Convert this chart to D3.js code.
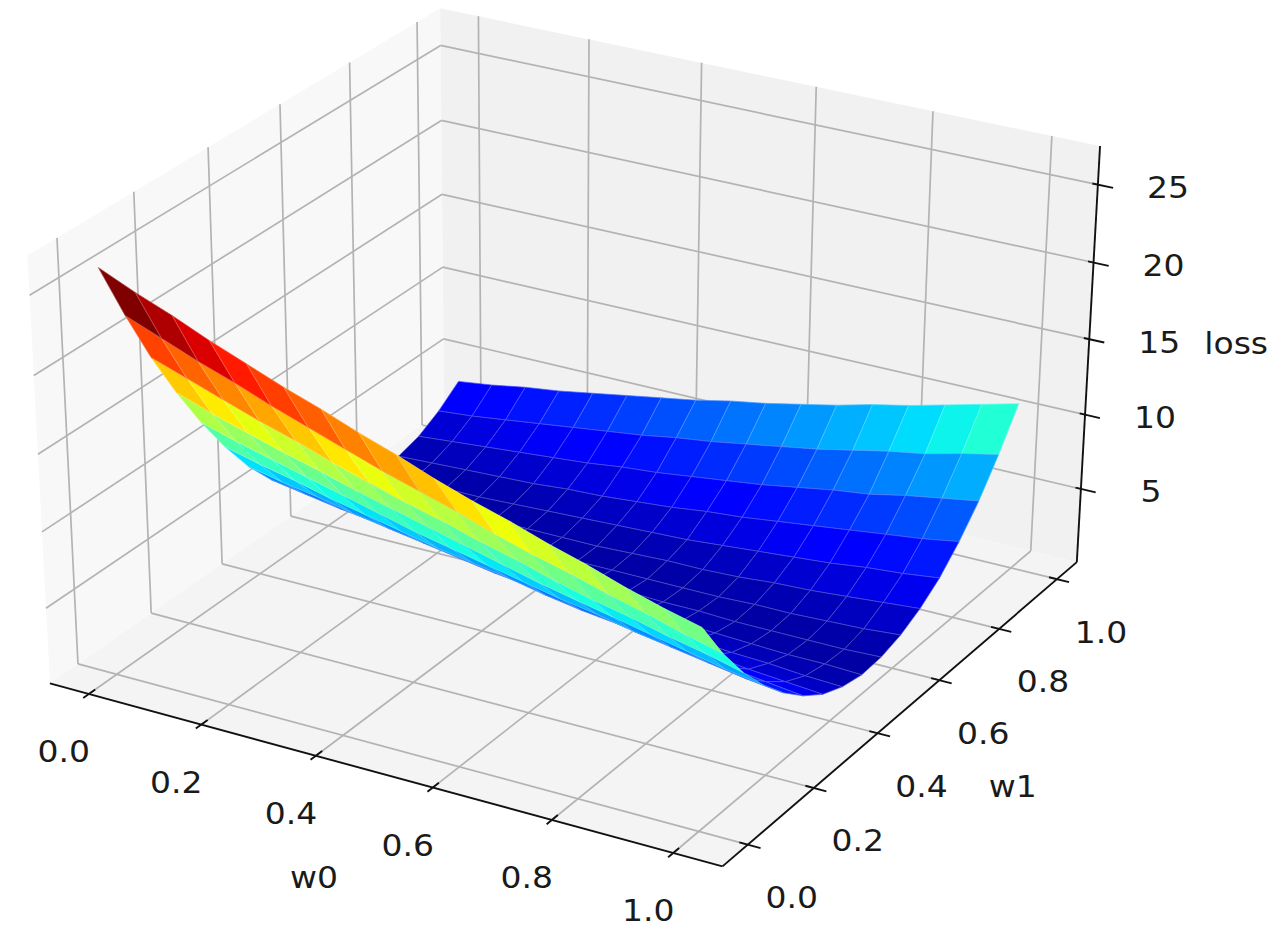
<!DOCTYPE html>
<html>
<head>
<meta charset="utf-8">
<script src="https://cdn.jsdelivr.net/npm/d3@7"></script>
<style>
  body { margin: 0; background: #fff; }
</style>
</head>
<body>
<div id="chart-container"></div>
<script>
// Grid of the loss surface
const w0Values = [0, 0.0625, 0.125, 0.1875, 0.25, 0.3125, 0.375, 0.4375, 0.5, 0.5625, 0.625, 0.6875, 0.75, 0.8125, 0.875, 0.9375, 1];
const w1Values = [0, 0.0625, 0.125, 0.1875, 0.25, 0.3125, 0.375, 0.4375, 0.5, 0.5625, 0.625, 0.6875, 0.75, 0.8125, 0.875, 0.9375, 1];

// lossGrid[j][i] -> loss at w1Values[j], w0Values[i]
const lossGrid = [
  [26.2, 25.2, 24.3, 23.3, 22.4, 21.5, 20.7, 19.8, 19.0, 18.1, 17.3, 16.6, 15.8, 15.1, 14.3, 13.6, 13.0],
  [22.3, 21.4, 20.5, 19.7, 18.8, 18.0, 17.2, 16.4, 15.7, 15.0, 14.2, 13.5, 12.9, 12.2, 11.6, 10.9, 10.3],
  [18.7, 17.9, 17.1, 16.3, 15.6, 14.8, 14.1, 13.4, 12.8, 12.1, 11.5, 10.8, 10.2, 9.7, 9.1, 8.6, 8.0],
  [15.5, 14.7, 14.0, 13.3, 12.7, 12.0, 11.4, 10.8, 10.2, 9.6, 9.0, 8.5, 8.0, 7.5, 7.0, 6.5, 6.1],
  [12.6, 11.9, 11.3, 10.7, 10.1, 9.5, 8.9, 8.4, 7.9, 7.4, 6.9, 6.5, 6.0, 5.6, 5.2, 4.8, 4.5],
  [10.0, 9.4, 8.9, 8.3, 7.8, 7.3, 6.8, 6.4, 6.0, 5.5, 5.1, 4.8, 4.4, 4.1, 3.8, 3.5, 3.2],
  [7.7, 7.2, 6.8, 6.3, 5.9, 5.5, 5.1, 4.7, 4.4, 4.0, 3.7, 3.4, 3.1, 2.9, 2.6, 2.4, 2.2],
  [5.8, 5.4, 5.0, 4.7, 4.3, 4.0, 3.7, 3.4, 3.1, 2.8, 2.6, 2.4, 2.2, 2.0, 1.9, 1.7, 1.6],
  [4.3, 3.9, 3.6, 3.3, 3.1, 2.8, 2.6, 2.4, 2.2, 2.0, 1.8, 1.7, 1.6, 1.5, 1.4, 1.4, 1.3],
  [3.0, 2.8, 2.5, 2.3, 2.1, 2.0, 1.8, 1.7, 1.6, 1.5, 1.4, 1.4, 1.3, 1.3, 1.3, 1.3, 1.4],
  [2.1, 1.9, 1.8, 1.7, 1.6, 1.5, 1.4, 1.3, 1.3, 1.3, 1.3, 1.3, 1.4, 1.4, 1.5, 1.6, 1.8],
  [1.5, 1.5, 1.4, 1.3, 1.3, 1.3, 1.3, 1.3, 1.4, 1.5, 1.5, 1.6, 1.8, 1.9, 2.1, 2.3, 2.5],
  [1.3, 1.3, 1.3, 1.3, 1.4, 1.5, 1.6, 1.7, 1.8, 1.9, 2.1, 2.3, 2.5, 2.7, 3.0, 3.2, 3.5],
  [1.4, 1.5, 1.6, 1.7, 1.8, 2.0, 2.1, 2.3, 2.5, 2.8, 3.0, 3.3, 3.6, 3.9, 4.2, 4.5, 4.9],
  [1.8, 2.0, 2.2, 2.4, 2.6, 2.8, 3.1, 3.3, 3.6, 3.9, 4.2, 4.6, 5.0, 5.3, 5.8, 6.2, 6.6],
  [2.6, 2.8, 3.1, 3.4, 3.7, 4.0, 4.3, 4.7, 5.0, 5.4, 5.8, 6.2, 6.7, 7.2, 7.6, 8.2, 8.7],
  [3.7, 4.0, 4.4, 4.7, 5.1, 5.5, 5.9, 6.3, 6.8, 7.2, 7.7, 8.2, 8.8, 9.3, 9.9, 10.5, 11.1]
];

// Ticks
const w0Ticks = [0, 0.2, 0.4, 0.6, 0.8, 1.0];
const w1Ticks = [0, 0.2, 0.4, 0.6, 0.8, 1.0];
const lossTicks = [5, 10, 15, 20, 25];

// Limits of the drawn box
const w0Box = [-0.07, 1.08];
const w1Box = [-0.075, 1.07];
const lossBox = [0, 27.45];

// Where some box corners / ticks sit on the page, used to fit the camera
const anchors = [
  [[-0.07, -0.075, 0], [50, 683]],
  [[1.08, -0.075, 0], [722, 866]],
  [[1.08, 1.07, 0], [1077, 563]],
  [[-0.07, 1.07, 0], [444, 411]],
  [[-0.07, -0.075, 27.45], [28, 255]],
  [[-0.07, 1.07, 27.45], [440, 8]],
  [[1.08, 1.07, 27.45], [1098, 143]],
  [[0, -0.075, 0], [90, 697]],
  [[1, -0.075, 0], [673, 853]],
  [[1.08, 0, 0], [748, 845]],
  [[1.08, 1, 0], [1058, 580]],
  [[1.08, 1.07, 5], [1080, 487]],
  [[1.08, 1.07, 25], [1097, 185]],
  [[0, 1.07, 27.45], [480, 17]],
  [[1, 1.07, 27.45], [1055, 139]],
  [[-0.07, 0, 27.45], [56, 238]],
  [[-0.07, 1, 27.45], [416, 22]],
  [[-0.07, 0, 0], [78, 663]],
  [[-0.07, 0.6, 0], [290, 513]]
];

const width = 1280;
const height = 948;

// Normalise data into the unit box
const nx = d3.scaleLinear().domain(w0Box).range([0, 1]);
const ny = d3.scaleLinear().domain(w1Box).range([0, 1]);
const nz = d3.scaleLinear().domain(lossBox).range([0, 1]);
const norm = (p) => [nx(p[0]), ny(p[1]), nz(p[2])];

// Least squares fit of a 3x4 projective camera (last entry fixed to 1)
function fitCamera(pts) {
  const n = 11;
  const M = Array.from({ length: n }, () => new Array(n + 1).fill(0));
  const addRow = (row, rhs) => {
    for (let i = 0; i < n; i++) {
      for (let j = 0; j < n; j++) M[i][j] += row[i] * row[j];
      M[i][n] += row[i] * rhs;
    }
  };
  pts.forEach(({ p, s }) => {
    const [x, y, z] = p;
    const [u, v] = s;
    addRow([x, y, z, 1, 0, 0, 0, 0, -u * x, -u * y, -u * z], u);
    addRow([0, 0, 0, 0, x, y, z, 1, -v * x, -v * y, -v * z], v);
  });
  for (let c = 0; c < n; c++) {
    let piv = c;
    for (let r = c + 1; r < n; r++) if (Math.abs(M[r][c]) > Math.abs(M[piv][c])) piv = r;
    [M[c], M[piv]] = [M[piv], M[c]];
    for (let r = 0; r < n; r++) {
      if (r === c) continue;
      const f = M[r][c] / M[c][c];
      for (let k = c; k <= n; k++) M[r][k] -= f * M[c][k];
    }
  }
  return M.map((row, i) => row[n] / row[i]);
}

const cam = fitCamera(anchors.map(([p, s]) => ({ p: norm(p), s: [s[0] / 1000, s[1] / 1000] })));

function project(w0, w1, z) {
  const [x, y, t] = norm([w0, w1, z]);
  const d = cam[8] * x + cam[9] * y + cam[10] * t + 1;
  return [
    1000 * (cam[0] * x + cam[1] * y + cam[2] * t + cam[3]) / d,
    1000 * (cam[4] * x + cam[5] * y + cam[6] * t + cam[7]) / d
  ];
}

// distance along the viewing direction (elev 30, azim -60), bigger = further away
function depth(w0, w1, z) {
  const [x, y, t] = norm([w0, w1, z]);
  return -(0.433 * x - 0.75 * y + 0.375 * t);
}

// jet colormap
const jetR = d3.scaleLinear().domain([0, 0.35, 0.66, 0.89, 1]).range([0, 0, 1, 1, 0.5]).clamp(true);
const jetG = d3.scaleLinear().domain([0, 0.125, 0.375, 0.64, 0.91, 1]).range([0, 0, 1, 1, 0, 0]).clamp(true);
const jetB = d3.scaleLinear().domain([0, 0.11, 0.34, 0.65, 1]).range([0.5, 1, 1, 0, 0]).clamp(true);
const jet = (v) => d3.rgb(255 * jetR(v), 255 * jetG(v), 255 * jetB(v));

const svg = d3.select("#chart-container")
  .append("svg")
  .attr("width", width)
  .attr("height", height)
  .style("background", "#fff");

const line = d3.line();
const path3d = (pts) => line(pts.map(p => project(...p)));

// Panes
const [a0, a1] = w0Box, [b0, b1] = w1Box, [c0, c1] = lossBox;
const panes = [
  { pts: [[a0, b0, c0], [a0, b1, c0], [a0, b1, c1], [a0, b0, c1]], fill: "#f8f8f8" }, // left (w0 min)
  { pts: [[a0, b1, c0], [a1, b1, c0], [a1, b1, c1], [a0, b1, c1]], fill: "#f1f1f1" }, // back (w1 max)
  { pts: [[a0, b0, c0], [a1, b0, c0], [a1, b1, c0], [a0, b1, c0]], fill: "#f4f4f4" }  // floor
];
svg.append("g")
  .selectAll("path")
  .data(panes)
  .join("path")
  .attr("d", d => path3d(d.pts) + "Z")
  .attr("fill", d => d.fill)
  .attr("stroke", "none");

// Gridlines
const gridSegs = [];
w0Ticks.forEach(t => {
  gridSegs.push([[t, b0, c0], [t, b1, c0]]);
  gridSegs.push([[t, b1, c0], [t, b1, c1]]);
});
w1Ticks.forEach(t => {
  gridSegs.push([[a0, t, c0], [a1, t, c0]]);
  gridSegs.push([[a0, t, c0], [a0, t, c1]]);
});
lossTicks.forEach(t => {
  gridSegs.push([[a0, b0, t], [a0, b1, t]]);
  gridSegs.push([[a0, b1, t], [a1, b1, t]]);
});
svg.append("g")
  .selectAll("path")
  .data(gridSegs)
  .join("path")
  .attr("d", d => path3d(d))
  .attr("fill", "none")
  .attr("stroke", "#b3b3b3")
  .attr("stroke-width", 1.7);

// Axis lines and ticks
const axisSegs = [
  [[a0, b0, c0], [a1, b0, c0]],
  [[a1, b0, c0], [a1, b1, c0]],
  [[a1, b1, c0], [a1, b1, c1]]
];
const spanW0 = a1 - a0, spanW1 = b1 - b0;
w0Ticks.forEach(t => axisSegs.push([[t, b0 + 0.015 * spanW1, c0], [t, b0 - 0.013 * spanW1, c0]]));
w1Ticks.forEach(t => axisSegs.push([[a1 - 0.012 * spanW0, t, c0], [a1 + 0.018 * spanW0, t, c0]]));
lossTicks.forEach(t => axisSegs.push([[a1 - 0.008 * spanW0, b1, t], [a1 + 0.022 * spanW0, b1, t]]));
svg.append("g")
  .selectAll("path")
  .data(axisSegs)
  .join("path")
  .attr("d", d => path3d(d))
  .attr("fill", "none")
  .attr("stroke", "#111")
  .attr("stroke-width", 1.9);

// Surface cells, painted from back to front
const cells = [];
for (let j = 0; j < w1Values.length - 1; j++) {
  for (let i = 0; i < w0Values.length - 1; i++) {
    const corners = [[i, j], [i + 1, j], [i + 1, j + 1], [i, j + 1]]
      .map(([a, b]) => [w0Values[a], w1Values[b], lossGrid[b][a]]);
    cells.push({
      corners,
      avg: d3.mean(corners, c => c[2]),
      depth: d3.mean(corners, c => depth(...c))
    });
  }
}
cells.sort((p, q) => q.depth - p.depth);
const colorNorm = d3.scaleLinear().domain([0.6, d3.max(cells, c => c.avg)]).range([0, 1]).clamp(true);

svg.append("g")
  .selectAll("path")
  .data(cells)
  .join("path")
  .attr("d", d => path3d(d.corners) + "Z")
  .attr("fill", d => jet(colorNorm(d.avg)))
  .attr("stroke", d => d3.interpolateRgb(jet(colorNorm(d.avg)), "#ffffff")(0.3))
  .attr("stroke-width", 0.7)
  .attr("stroke-linejoin", "round");

// Labels
function label(x, y, str) {
  svg.append("g")
    .attr("transform", `translate(${x},${y}) scale(1.1,1)`)
    .append("text")
    .attr("text-anchor", "middle")
    .attr("dominant-baseline", "central")
    .style("font-family", "DejaVu Sans, sans-serif")
    .style("font-size", "30px")
    .attr("fill", "#1a1a1a")
    .text(str);
}
const fmt = d3.format(".1f");
w0Ticks.forEach(t => {
  const [x, y] = project(t, b0, c0);
  label(x - 25, y + 58, fmt(t));
});
w1Ticks.forEach(t => {
  const [x, y] = project(a1, t, c0);
  label(x + 44, y + 53, fmt(t));
});
lossTicks.forEach(t => {
  const [x, y] = project(a1, b1, t);
  label(x + 70, y + 3, String(t));
});

// Axis titles
{
  const [x, y] = project(0.5, b0, c0);
  label(x - 60, y + 106, "w0");
}
{
  const [x, y] = project(a1, 0.5, c0);
  label(x + 104, y + 80, "w1");
}
{
  const [x, y] = project(a1, b1, (c0 + c1) / 2);
  label(x + 148, y - 15, "loss");
}
</script>
</body>
</html>
